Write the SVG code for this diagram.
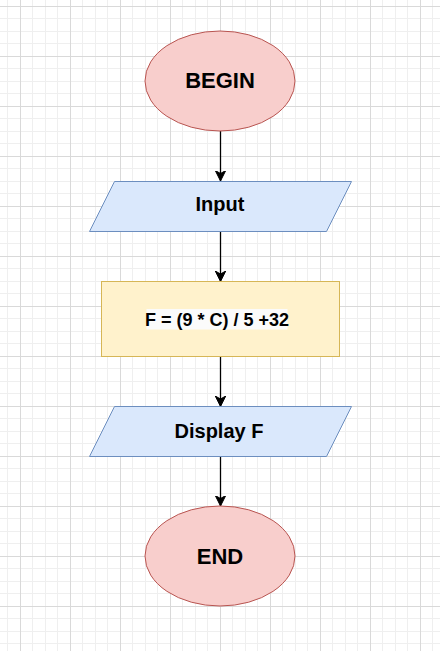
<svg xmlns="http://www.w3.org/2000/svg" width="440" height="651" viewBox="0 0 440 651">
  <defs>
    <pattern id="grid" x="20" y="6" width="50" height="50" patternUnits="userSpaceOnUse">
      <rect x="12" y="0" width="1" height="50" fill="#efefef"/>
      <rect x="25" y="0" width="1" height="50" fill="#efefef"/>
      <rect x="37" y="0" width="1" height="50" fill="#efefef"/>
      <rect x="0" y="12" width="50" height="1" fill="#efefef"/>
      <rect x="0" y="25" width="50" height="1" fill="#efefef"/>
      <rect x="0" y="37" width="50" height="1" fill="#efefef"/>
      <rect x="0" y="0" width="1" height="50" fill="#d9d9d9"/>
      <rect x="0" y="0" width="50" height="1" fill="#d9d9d9"/>
    </pattern>
    <marker id="arrow" viewBox="0 0 12 12" refX="10.5" refY="6" markerWidth="12" markerHeight="12" markerUnits="userSpaceOnUse" orient="auto">
      <path d="M0,0.75 L10.5,6 L0,11.25 L3,6 Z" fill="#000" stroke="#000" stroke-width="1"/>
    </marker>
  </defs>
  <style>
    .term { fill: #f8cecc; stroke: #b85450; stroke-width: 1; }
    .io { fill: #dae8fc; stroke: #6c8ebf; stroke-width: 1; }
    .proc { fill: #fff2cc; stroke: #d6b656; stroke-width: 1; }
    .lbl { font-family: "Liberation Sans", Arial, sans-serif; font-weight: bold; fill: #000; text-anchor: middle; }
    .edge { stroke: #000; stroke-width: 1.3; fill: none; marker-end: url(#arrow); }
  </style>
  <rect x="0" y="0" width="440" height="651" fill="#ffffff"/>
  <rect x="0" y="0" width="440" height="651" fill="url(#grid)"/>

  <g id="connectors">
    <path class="edge" d="M220.5,131 L220.5,181"/>
    <path class="edge" d="M220.5,231.5 L220.5,281.5"/>
    <path class="edge" d="M220.5,356.5 L220.5,406.5"/>
    <path class="edge" d="M220.5,456.5 L220.5,506"/>
  </g>

  <g id="begin">
    <ellipse class="term" cx="220" cy="81" rx="75" ry="50"/>
    <text class="lbl" x="220" y="88.3" font-size="22">BEGIN</text>
  </g>

  <g id="input">
    <polygon class="io" points="114.5,181.5 351.5,181.5 326.5,231.5 89.5,231.5"/>
    <text class="lbl" x="220" y="211.3" font-size="20">Input</text>
  </g>

  <g id="process">
    <rect class="proc" x="101.5" y="281.5" width="238" height="75"/>
    <rect x="146.5" y="309" width="141" height="20.5" fill="#fbfbfb"/>
    <text class="lbl" x="217" y="326" font-size="18">F = (9 * C) / 5 +32</text>
  </g>

  <g id="display">
    <polygon class="io" points="114.5,406.5 351.5,406.5 326.5,456.5 89.5,456.5"/>
    <text class="lbl" x="219" y="438.3" font-size="20">Display F</text>
  </g>

  <g id="end">
    <ellipse class="term" cx="220" cy="556" rx="75" ry="50"/>
    <text class="lbl" x="220" y="563.7" font-size="22">END</text>
  </g>
</svg>
